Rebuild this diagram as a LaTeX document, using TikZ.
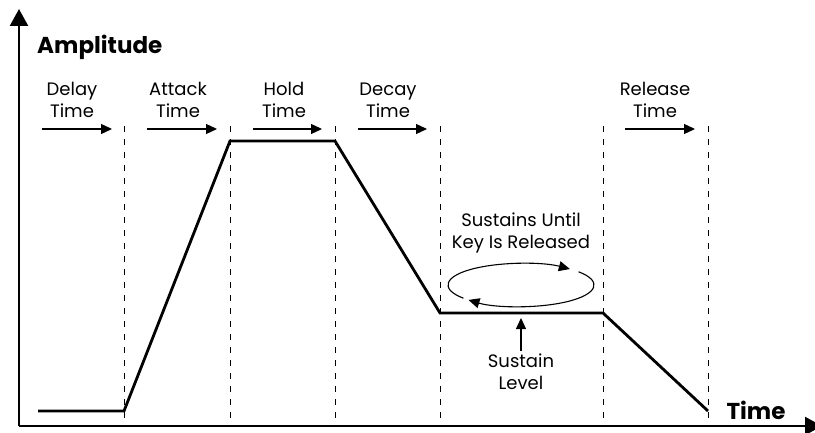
\documentclass[tikz,border=0pt]{standalone}
\usepackage{fontspec}
\setmainfont{Poppins}
\usetikzlibrary{arrows.meta}
\begin{document}
\begin{tikzpicture}[x=1pt,y=-1pt,
  lbl/.style={align=center,font=\fontsize{18}{22}\selectfont,inner sep=0pt},
  bigl/.style={font=\fontsize{23}{26}\selectfont\bfseries,inner sep=0pt},
  axis/.style={line width=2.4pt,-{Triangle[length=17pt,width=18pt]}},
  env/.style={line width=2.8pt,line join=miter},
  guide/.style={line width=0.8pt,dash pattern=on 6pt off 7pt},
  tarr/.style={line width=1.3pt,-{Triangle[length=11pt,width=10pt]}},
  larr/.style={line width=1.1pt,-{Triangle[length=11pt,width=10pt]}}]
\useasboundingbox (0,0) rectangle (815,433);
\clip (0,0) rectangle (815,433);
% axes
\coordinate (O) at (19,426);
\coordinate (ytop) at (19,9);
\coordinate (xend) at (822,426);
\draw[axis] (O) -- (ytop);
\draw[axis] (O) -- (xend);
% guide lines
\foreach \x/\n in {124/g1,230/g2,335/g3,440/g4,603/g5,708/g6}{
  \coordinate (\n t) at (\x,126);
  \coordinate (\n b) at (\x,425);
  \draw[guide] (\n t) -- (\n b);
}
% envelope
\coordinate (e0) at (38,411);
\coordinate (e1) at (124,411);
\coordinate (e2) at (230,141);
\coordinate (e3) at (335,141);
\coordinate (e4) at (440,313);
\coordinate (e5) at (603,313);
\coordinate (e6) at (708,411);
\draw[env] (e0) -- (e1) -- (e2) -- (e3) -- (e4) -- (e5) -- (e6);
% labels
\node[bigl,anchor=west] (amp) at (37,47) {Amplitude};
\node[bigl] (time) at (756,410) {Time};
\node[lbl] (l1) at (72,100) {Delay\\Time};
\node[lbl] (l2) at (178,100) {Attack\\Time};
\node[lbl] (l3) at (284,100) {Hold\\Time};
\node[lbl] (l4) at (388,100) {Decay\\Time};
\node[lbl] (l5) at (655,100) {Release\\Time};
\foreach \a/\b/\n in {42/112/1,147/217/2,253/322/3,358/427/4,625/695/5}{
  \coordinate (a\n s) at (\a,129);
  \coordinate (a\n e) at (\b,129);
  \draw[tarr] (a\n s) -- (a\n e);
}
% sustain loop
\node[lbl] (loop) at (521,233) {Sustains Until\\Key Is Released};
\coordinate (c) at (521,285);
\draw[larr] ([shift={(218:73pt and 21.5pt)}]c) arc[start angle=218,end angle=48,x radius=73pt,y radius=21.5pt];
\draw[larr] ([shift={(38:73pt and 21.5pt)}]c) arc[start angle=38,end angle=-136,x radius=73pt,y radius=21.5pt];
% sustain level
\node[lbl] (sl) at (521,372) {Sustain\\Level};
\coordinate (slt) at (521,318);
\draw[larr] (sl.north) ++(0,-3) coordinate (slb) (slb) -- (slt);
\end{tikzpicture}
\end{document}
